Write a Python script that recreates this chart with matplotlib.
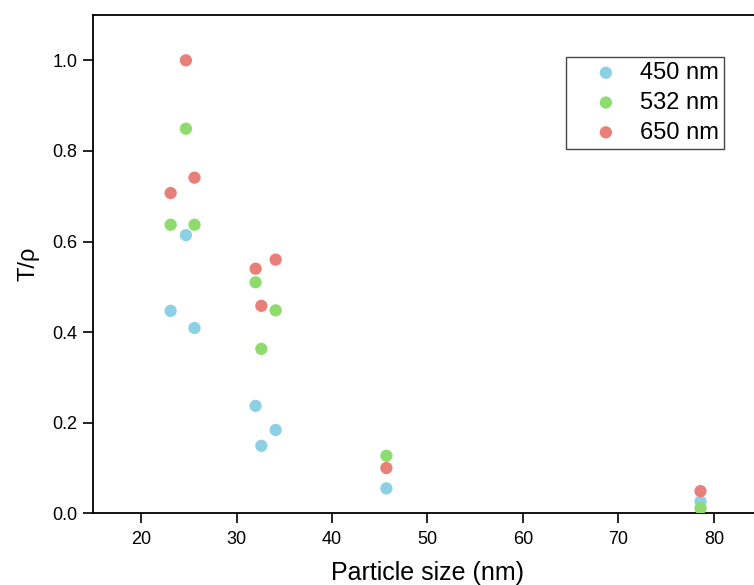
import matplotlib
matplotlib.use("Agg")
import matplotlib.pyplot as plt
from matplotlib.ticker import FormatStrFormatter

plt.rcParams['font.family'] = ['Liberation Sans', 'DejaVu Sans']

particle_size = [23.1, 24.7, 25.6, 32.0, 32.6, 34.1, 45.7, 78.6]
series_labels = ["450 nm", "532 nm", "650 nm"]
t_450 = [0.447, 0.614, 0.409, 0.237, 0.149, 0.184, 0.055, 0.026]
t_532 = [0.637, 0.849, 0.637, 0.510, 0.363, 0.448, 0.127, 0.011]
t_650 = [0.707, 1.000, 0.741, 0.540, 0.458, 0.560, 0.100, 0.049]
x_ticks = [20, 30, 40, 50, 60, 70, 80]
y_ticks = [0.0, 0.2, 0.4, 0.6, 0.8, 1.0]

colors = ["#8DD0E4", "#8EDB6E", "#E88079"]

W, H = 754, 585
fig = plt.figure(figsize=(W / 100, H / 100), dpi=100)
left, right, bottom, top = 93.3, 761.6, 513.3, 15.0
ax = fig.add_axes([left / W, (H - bottom) / H, (right - left) / W, (bottom - top) / H])

for vals, c, lab in zip([t_450, t_532, t_650], colors, series_labels):
    ax.scatter(particle_size, vals, s=78, color=c, edgecolors='none', label=lab, zorder=3)

ax.set_xlim(15, 85)
ax.set_ylim(0, 1.1)
ax.set_xticks(x_ticks)
ax.set_yticks(y_ticks)
ax.yaxis.set_major_formatter(FormatStrFormatter('%.1f'))
ax.tick_params(axis='both', direction='out', length=7.5, width=1.2, labelsize=13,
               colors='black', top=False, right=False)
ax.tick_params(axis='x', pad=5.5)
ax.tick_params(axis='y', pad=4)
for sp in ax.spines.values():
    sp.set_linewidth(1.3)
    sp.set_color('black')

ax.set_xlabel("Particle size (nm)", fontsize=18, labelpad=9)
ax.set_ylabel("T/ρ", fontsize=17, labelpad=9)

leg = ax.legend(loc='upper left', bbox_to_anchor=(565.7 / W, 1 - 56.5 / H),
                bbox_transform=fig.transFigure, borderaxespad=0, fontsize=17,
                frameon=True, fancybox=False, handlelength=2.94, handletextpad=-0.04,
                labelspacing=0.33, borderpad=0.23, markerscale=1.0)
leg.get_frame().set_edgecolor('#444444')
leg.get_frame().set_linewidth(1.0)
leg.get_frame().set_alpha(1.0)

fig.savefig("out.png", dpi=100)
